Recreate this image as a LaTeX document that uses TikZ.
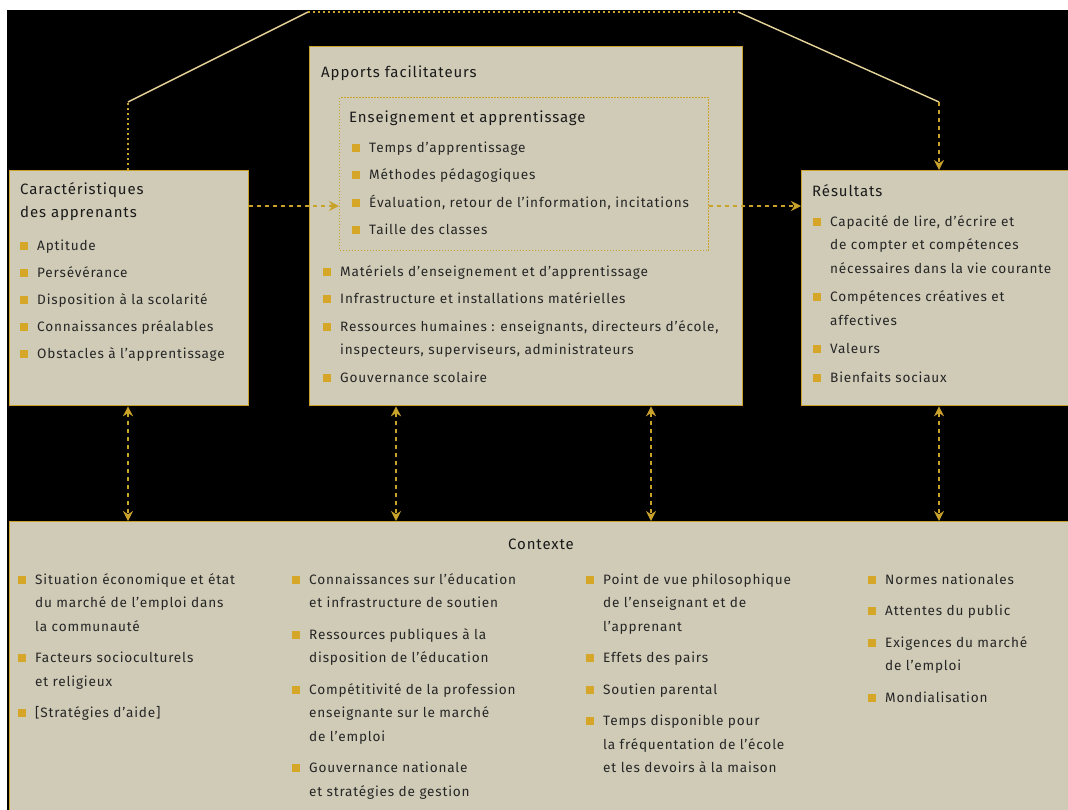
\documentclass[tikz,border=0pt]{standalone}
\usepackage{fontspec}
\setmainfont{Fira Sans}[LetterSpace=6]
\usetikzlibrary{arrows.meta}
\definecolor{boxfill}{HTML}{CFCBB7}
\definecolor{gold}{HTML}{C9A22C}
\definecolor{bul}{HTML}{D6A628}
\definecolor{txt}{HTML}{262626}
\definecolor{hdc}{HTML}{1A1A1A}
\definecolor{lite}{HTML}{E6D49A}
\newcommand\bsq{\textcolor{bul}{\rule[0.3pt]{8pt}{8pt}}}
\newcommand\mylist[1]{\begin{tabular}[t]{@{}l@{\hspace{9pt}}l@{}}#1\end{tabular}}
\newcommand\myhead[1]{\begin{tabular}[t]{@{}l@{}}#1\end{tabular}}
\tikzset{
  gt/.tip={Stealth[width=10pt,length=10pt]},
  box/.style={draw=gold, line width=1.3pt, fill=boxfill, anchor=north west, inner sep=0pt},
  inbox/.style={draw=gold, line width=1pt, dash pattern=on 1.5pt off 1.5pt, anchor=north west, inner sep=0pt},
  lst/.style={anchor=base west, inner sep=0pt, text=txt, font={\fontsize{13.6}{23.5}\selectfont}},
  hd/.style={lst, text=hdc, font={\fontsize{15}{23.5}\selectfont}},
  conn/.style={draw=gold, line width=1.6pt, dash pattern=on 4pt off 4pt},
  dotc/.style={draw=gold, line width=1.6pt, dash pattern=on 2pt off 3pt},
  litec/.style={draw=lite, line width=1.4pt},
}
\begin{document}
\begin{tikzpicture}[x=1pt,y=-1pt]
\useasboundingbox (0,0) rectangle (1068,809);
\clip (0,0) rectangle (1068,809);
\fill[white] (0,0) rectangle (1068,809);
\fill[black] (7,10) rectangle (1070,811);

% boxes
\node[box, minimum width=239pt, minimum height=235pt] (lbox) at (9,170) {};
\node[box, minimum width=433pt, minimum height=359pt] (mbox) at (309,46) {};
\node[inbox, minimum width=369pt, minimum height=153pt] (inner) at (339,97) {};
\node[box, minimum width=272pt, minimum height=235pt] (rbox) at (801,170) {};
\node[box, minimum width=1065pt, minimum height=295pt] (ctx) at (9,521) {};

% left box text
\node[hd] (lhead) at (20,194) {\myhead{Caractéristiques\\des apprenants}};
\node[lst] (llist) at (20,250) {\mylist{
\bsq & Aptitude \\[3.5pt]
\bsq & Persévérance \\[3.5pt]
\bsq & Disposition à la scolarité \\[3.5pt]
\bsq & Connaissances préalables \\[3.5pt]
\bsq & Obstacles à l'apprentissage}};

% middle box text
\node[hd] (mhead) at (321,77) {Apports facilitateurs};
\node[hd] (ihead) at (349,122) {Enseignement et apprentissage};
\node[lst] (ilist) at (352,152) {\mylist{
\bsq & Temps d'apprentissage \\[4pt]
\bsq & Méthodes pédagogiques \\[4pt]
\bsq & Évaluation, retour de l'information, incitations \\[4pt]
\bsq & Taille des classes}};
\node[lst] (mlist) at (323,276) {\mylist{
\bsq & Matériels d'enseignement et d'apprentissage \\[4pt]
\bsq & Infrastructure et installations matérielles \\[4pt]
\bsq & Ressources humaines : enseignants, directeurs d'école, \\
     & inspecteurs, superviseurs, administrateurs \\[4pt]
\bsq & Gouvernance scolaire}};

% right box text
\node[hd] (rhead) at (812,196) {Résultats};
\node[lst] (rlist) at (813,226) {\mylist{
\bsq & Capacité de lire, d'écrire et \\
     & de compter et compétences \\
     & nécessaires dans la vie courante \\[5pt]
\bsq & Compétences créatives et \\
     & affectives \\[5pt]
\bsq & Valeurs \\[5pt]
\bsq & Bienfaits sociaux}};

% context text
\node[hd, anchor=base] (chead) at (541,549) {Contexte};
\node[lst] (c1) at (18,584) {\mylist{
\bsq & Situation économique et état \\
     & du marché de l'emploi dans \\
     & la communauté \\[8pt]
\bsq & Facteurs socioculturels \\
     & et religieux \\[8pt]
\bsq & [Stratégies d'aide]}};
\node[lst] (c2) at (292,584) {\mylist{
\bsq & Connaissances sur l'éducation \\
     & et infrastructure de soutien \\[8pt]
\bsq & Ressources publiques à la \\
     & disposition de l'éducation \\[8pt]
\bsq & Compétitivité de la profession \\
     & enseignante sur le marché \\
     & de l'emploi \\[8pt]
\bsq & Gouvernance nationale \\
     & et stratégies de gestion}};
\node[lst] (c3) at (586,584) {\mylist{
\bsq & Point de vue philosophique \\
     & de l'enseignant et de \\
     & l'apprenant \\[8pt]
\bsq & Effets des pairs \\[8pt]
\bsq & Soutien parental \\[8pt]
\bsq & Temps disponible pour \\
     & la fréquentation de l'école \\
     & et les devoirs à la maison}};
\node[lst] (c4) at (868,584) {\mylist{
\bsq & Normes nationales \\[8pt]
\bsq & Attentes du public \\[8pt]
\bsq & Exigences du marché \\
     & de l'emploi \\[8pt]
\bsq & Mondialisation}};

% helper coordinates
\coordinate (x1) at (128,0);
\coordinate (x2) at (396,0);
\coordinate (x3) at (651,0);
\coordinate (x4) at (939,0);
\coordinate (yh) at (0,206);
\coordinate (t1) at (128,102);
\coordinate (t2) at (308,12);
\coordinate (t3) at (738,12);
\coordinate (t4) at (939,102);

% top feedback connector
\draw[dotc] (lbox.north -| x1) -- (t1);
\draw[litec] (t1) -- (t2);
\draw[dotc] (t2) -- (t3);
\draw[litec] (t3) -- (t4);
\draw[conn, -gt] (t4) -- (rbox.north -| x4);

% horizontal arrows
\draw[conn, -gt] (lbox.east |- yh) -- (inner.west |- yh);
\draw[conn, -gt] (inner.east |- yh) -- (rbox.west |- yh);

% vertical double arrows
\draw[conn, gt-gt] (lbox.south -| x1) -- (ctx.north -| x1);
\draw[conn, gt-gt] (mbox.south -| x2) -- (ctx.north -| x2);
\draw[conn, gt-gt] (mbox.south -| x3) -- (ctx.north -| x3);
\draw[conn, gt-gt] (rbox.south -| x4) -- (ctx.north -| x4);
\end{tikzpicture}
\end{document}
